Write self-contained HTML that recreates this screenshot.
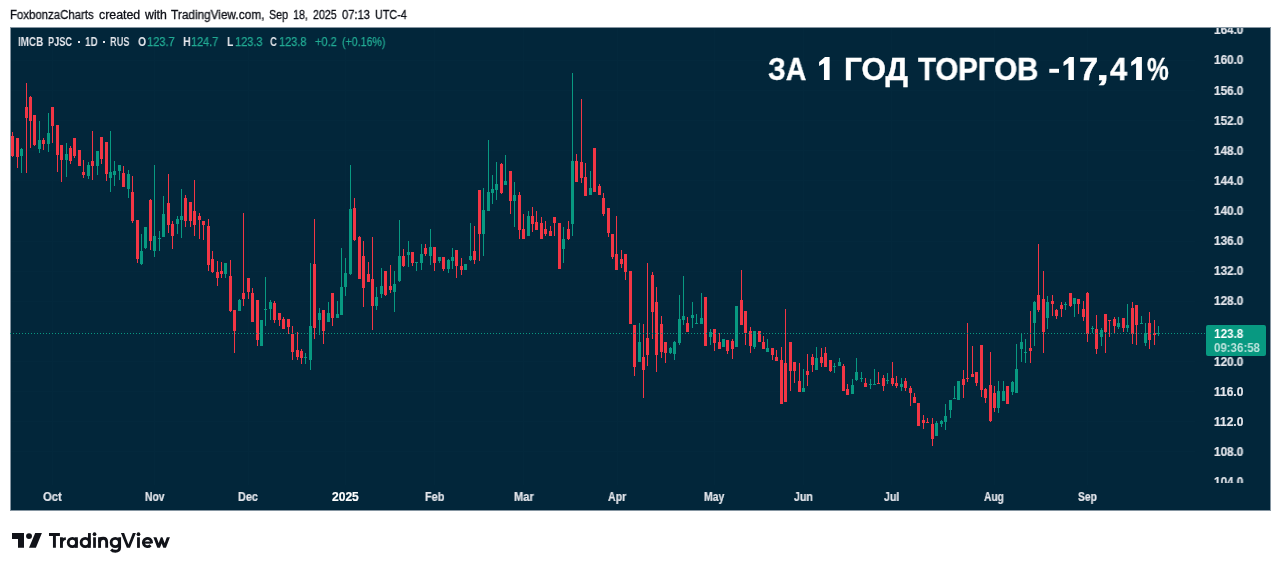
<!DOCTYPE html>
<html><head><meta charset="utf-8"><title>chart</title>
<style>
html,body{margin:0;padding:0;background:#fff;}
body{width:1281px;height:571px;position:relative;overflow:hidden;font-family:"Liberation Sans",sans-serif;}
.t{position:absolute;white-space:nowrap;line-height:1;transform-origin:0 0;display:block;will-change:transform;}
#chart{position:absolute;left:10px;top:27px;width:1259px;height:482px;background:#02263a;border:1px solid #8595a1;}
#pa{position:absolute;left:0;top:28px;width:1281px;height:455px;overflow:hidden;}
#pa .t{margin-top:-28px;}
#lbl{position:absolute;left:1206px;top:325px;width:60px;height:31px;background:#089981;border-radius:2px;}
.dot{position:absolute;width:2px;height:2px;background:#e4e6ec;top:41px;}
svg{position:absolute;left:0;top:0;}
</style></head><body>
<div id="chart"></div>
<svg width="1281" height="571" viewBox="0 0 1281 571" shape-rendering="crispEdges">
<rect x="52" y="28" width="1" height="457" fill="#03283c"/><rect x="154" y="28" width="1" height="457" fill="#03283c"/><rect x="248" y="28" width="1" height="457" fill="#03283c"/><rect x="345" y="28" width="1" height="457" fill="#03283c"/><rect x="434" y="28" width="1" height="457" fill="#03283c"/><rect x="523" y="28" width="1" height="457" fill="#03283c"/><rect x="617" y="28" width="1" height="457" fill="#03283c"/><rect x="714" y="28" width="1" height="457" fill="#03283c"/><rect x="803" y="28" width="1" height="457" fill="#03283c"/><rect x="891" y="28" width="1" height="457" fill="#03283c"/><rect x="994" y="28" width="1" height="457" fill="#03283c"/><rect x="1087" y="28" width="1" height="457" fill="#03283c"/><rect x="11" y="60" width="1184" height="1" fill="#03283c"/><rect x="11" y="90" width="1184" height="1" fill="#03283c"/><rect x="11" y="120" width="1184" height="1" fill="#03283c"/><rect x="11" y="150" width="1184" height="1" fill="#03283c"/><rect x="11" y="180" width="1184" height="1" fill="#03283c"/><rect x="11" y="210" width="1184" height="1" fill="#03283c"/><rect x="11" y="241" width="1184" height="1" fill="#03283c"/><rect x="11" y="271" width="1184" height="1" fill="#03283c"/><rect x="11" y="301" width="1184" height="1" fill="#03283c"/><rect x="11" y="331" width="1184" height="1" fill="#03283c"/><rect x="11" y="361" width="1184" height="1" fill="#03283c"/><rect x="11" y="391" width="1184" height="1" fill="#03283c"/><rect x="11" y="421" width="1184" height="1" fill="#03283c"/><rect x="11" y="451" width="1184" height="1" fill="#03283c"/>
<path fill="#089981" d="M21 148h1v25h-1zM20 149h3v7h-3zM39 121h1v32h-1zM38 140h3v9h-3zM48 113h1v39h-1zM47 133h3v11h-3zM66 143h1v34h-1zM65 154h3v6h-3zM88 162h1v17h-1zM87 165h3v11h-3zM97 151h1v24h-1zM96 151h3v15h-3zM110 131h1v61h-1zM109 172h3v6h-3zM114 161h1v25h-1zM113 171h3v4h-3zM119 165h1v15h-1zM118 165h3v6h-3zM128 170h1v28h-1zM127 174h3v15h-3zM141 234h1v31h-1zM140 251h3v13h-3zM145 227h1v22h-1zM144 227h3v21h-3zM154 165h1v92h-1zM153 236h3v15h-3zM159 231h1v20h-1zM158 238h3v1h-3zM163 196h1v41h-1zM162 214h3v23h-3zM177 216h1v18h-1zM176 219h3v5h-3zM181 189h1v49h-1zM180 216h3v4h-3zM225 263h1v15h-1zM224 263h3v11h-3zM239 299h1v12h-1zM238 300h3v11h-3zM261 320h1v26h-1zM260 320h3v26h-3zM265 277h1v49h-1zM264 309h3v1h-3zM270 300h1v20h-1zM269 302h3v7h-3zM305 353h1v11h-1zM304 357h3v1h-3zM310 263h1v107h-1zM309 326h3v34h-3zM319 308h1v27h-1zM318 313h3v7h-3zM328 302h1v20h-1zM327 313h3v9h-3zM337 301h1v17h-1zM336 314h3v4h-3zM341 248h1v67h-1zM340 287h3v28h-3zM345 258h1v38h-1zM344 273h3v14h-3zM350 165h1v110h-1zM349 209h3v65h-3zM376 287h1v23h-1zM375 297h3v9h-3zM381 268h1v30h-1zM380 286h3v8h-3zM394 271h1v41h-1zM393 284h3v8h-3zM399 220h1v62h-1zM398 256h3v25h-3zM408 241h1v26h-1zM407 252h3v3h-3zM416 262h1v9h-1zM415 262h3v1h-3zM421 244h1v26h-1zM420 254h3v9h-3zM430 229h1v36h-1zM429 247h3v9h-3zM439 257h1v6h-1zM438 257h3v4h-3zM448 259h1v14h-1zM447 260h3v9h-3zM452 248h1v21h-1zM451 257h3v4h-3zM465 264h1v6h-1zM464 264h3v6h-3zM470 223h1v38h-1zM469 256h3v4h-3zM483 188h1v68h-1zM482 210h3v24h-3zM488 140h1v71h-1zM487 192h3v19h-3zM492 175h1v29h-1zM491 189h3v4h-3zM496 162h1v38h-1zM495 184h3v6h-3zM505 155h1v30h-1zM504 181h3v4h-3zM514 182h1v45h-1zM513 195h3v6h-3zM528 211h1v25h-1zM527 216h3v20h-3zM563 227h1v36h-1zM562 239h3v10h-3zM572 73h1v163h-1zM571 161h3v63h-3zM590 171h1v24h-1zM589 188h3v7h-3zM639 323h1v39h-1zM638 342h3v20h-3zM670 347h1v7h-1zM669 348h3v5h-3zM674 341h1v19h-1zM673 342h3v12h-3zM679 295h1v50h-1zM678 319h3v24h-3zM683 276h1v49h-1zM682 316h3v4h-3zM692 302h1v26h-1zM691 315h3v3h-3zM696 314h1v10h-1zM695 323h3v1h-3zM701 293h1v31h-1zM700 318h3v6h-3zM710 329h1v16h-1zM709 332h3v5h-3zM723 339h1v8h-1zM722 339h3v8h-3zM736 306h1v41h-1zM735 306h3v41h-3zM754 331h1v18h-1zM753 331h3v16h-3zM767 339h1v13h-1zM766 348h3v4h-3zM803 369h1v23h-1zM802 388h3v4h-3zM816 347h1v23h-1zM815 358h3v12h-3zM834 363h1v10h-1zM833 366h3v1h-3zM839 358h1v8h-1zM838 362h3v4h-3zM852 379h1v15h-1zM851 385h3v9h-3zM856 358h1v23h-1zM855 372h3v8h-3zM861 372h1v10h-1zM860 378h3v1h-3zM870 379h1v10h-1zM869 384h3v1h-3zM874 369h1v16h-1zM873 384h3v1h-3zM887 373h1v11h-1zM886 380h3v1h-3zM901 378h1v13h-1zM900 384h3v3h-3zM936 421h1v15h-1zM935 423h3v13h-3zM941 420h1v7h-1zM940 421h3v3h-3zM945 404h1v26h-1zM944 416h3v6h-3zM950 400h1v18h-1zM949 400h3v10h-3zM954 386h1v13h-1zM953 398h3v1h-3zM958 381h1v19h-1zM957 381h3v19h-3zM998 381h1v32h-1zM997 391h3v17h-3zM1003 381h1v20h-1zM1002 391h3v10h-3zM1012 381h1v14h-1zM1011 382h3v10h-3zM1016 344h1v49h-1zM1015 369h3v24h-3zM1021 333h1v29h-1zM1020 342h3v7h-3zM1025 339h1v24h-1zM1024 352h3v1h-3zM1034 301h1v45h-1zM1033 302h3v21h-3zM1047 296h1v33h-1zM1046 302h3v16h-3zM1065 302h1v8h-1zM1064 304h3v1h-3zM1074 298h1v19h-1zM1073 298h3v6h-3zM1092 326h1v7h-1zM1091 328h3v1h-3zM1101 328h1v18h-1zM1100 330h3v7h-3zM1118 317h1v12h-1zM1117 323h3v4h-3zM1127 304h1v28h-1zM1126 325h3v3h-3zM1141 316h1v8h-1zM1140 323h3v1h-3zM1145 323h1v23h-1zM1144 333h3v10h-3zM1158 326h1v10h-1zM1157 333h3v1h-3z"/>
<path fill="#f23645" d="M12 132h1v25h-1zM11 136h3v20h-3zM17 138h1v30h-1zM16 138h3v19h-3zM26 83h1v90h-1zM25 107h3v11h-3zM30 96h1v52h-1zM29 97h3v24h-3zM34 115h1v31h-1zM33 115h3v30h-3zM43 138h1v12h-1zM42 140h3v4h-3zM52 107h1v36h-1zM51 107h3v19h-3zM57 125h1v47h-1zM56 125h3v30h-3zM61 145h1v37h-1zM60 145h3v15h-3zM70 146h1v18h-1zM69 148h3v13h-3zM74 138h1v20h-1zM73 138h3v18h-3zM79 150h1v16h-1zM78 150h3v16h-3zM83 160h1v18h-1zM82 172h3v3h-3zM92 131h1v49h-1zM91 161h3v5h-3zM101 137h1v27h-1zM100 137h3v22h-3zM106 142h1v39h-1zM105 142h3v32h-3zM123 166h1v21h-1zM122 173h3v14h-3zM132 176h1v47h-1zM131 192h3v29h-3zM137 220h1v43h-1zM136 220h3v39h-3zM150 199h1v51h-1zM149 200h3v41h-3zM168 174h1v59h-1zM167 203h3v22h-3zM172 221h1v28h-1zM171 224h3v12h-3zM185 195h1v32h-1zM184 198h3v23h-3zM190 202h1v25h-1zM189 202h3v19h-3zM194 180h1v56h-1zM193 211h3v14h-3zM199 213h1v26h-1zM198 216h3v4h-3zM203 221h1v19h-1zM202 221h3v4h-3zM208 219h1v52h-1zM207 226h3v39h-3zM212 251h1v22h-1zM211 259h3v13h-3zM217 261h1v25h-1zM216 272h3v6h-3zM221 262h1v16h-1zM220 271h3v3h-3zM230 260h1v52h-1zM229 276h3v35h-3zM234 310h1v43h-1zM233 310h3v21h-3zM243 213h1v93h-1zM242 293h3v6h-3zM248 278h1v21h-1zM247 278h3v14h-3zM252 288h1v34h-1zM251 293h3v29h-3zM257 300h1v46h-1zM256 300h3v40h-3zM274 301h1v22h-1zM273 303h3v17h-3zM279 313h1v13h-1zM278 313h3v7h-3zM283 317h1v12h-1zM282 319h3v10h-3zM288 319h1v15h-1zM287 319h3v8h-3zM292 326h1v34h-1zM291 334h3v18h-3zM297 332h1v28h-1zM296 350h3v7h-3zM301 349h1v15h-1zM300 351h3v7h-3zM314 219h1v120h-1zM313 264h3v64h-3zM323 310h1v34h-1zM322 310h3v21h-3zM332 293h1v33h-1zM331 293h3v25h-3zM354 198h1v43h-1zM353 208h3v32h-3zM359 236h1v43h-1zM358 237h3v42h-3zM363 241h1v66h-1zM362 256h3v32h-3zM368 262h1v20h-1zM367 274h3v8h-3zM372 237h1v93h-1zM371 279h3v27h-3zM385 271h1v25h-1zM384 271h3v24h-3zM390 265h1v28h-1zM389 286h3v4h-3zM403 249h1v18h-1zM402 256h3v10h-3zM412 252h1v14h-1zM411 252h3v11h-3zM425 244h1v12h-1zM424 248h3v6h-3zM434 247h1v24h-1zM433 247h3v16h-3zM443 257h1v14h-1zM442 257h3v12h-3zM456 250h1v28h-1zM455 250h3v16h-3zM461 258h1v17h-1zM460 266h3v4h-3zM474 226h1v38h-1zM473 251h3v9h-3zM479 190h1v71h-1zM478 190h3v44h-3zM501 163h1v31h-1zM500 164h3v29h-3zM510 171h1v43h-1zM509 171h3v30h-3zM519 192h1v47h-1zM518 195h3v35h-3zM523 214h1v25h-1zM522 229h3v10h-3zM532 207h1v25h-1zM531 216h3v8h-3zM536 211h1v19h-1zM535 222h3v8h-3zM541 217h1v22h-1zM540 223h3v16h-3zM545 221h1v15h-1zM544 229h3v5h-3zM550 226h1v10h-1zM549 231h3v5h-3zM554 217h1v19h-1zM553 217h3v6h-3zM559 223h1v46h-1zM558 223h3v46h-3zM568 221h1v19h-1zM567 229h3v10h-3zM576 154h1v28h-1zM575 161h3v21h-3zM581 99h1v84h-1zM580 162h3v16h-3zM585 163h1v33h-1zM584 177h3v19h-3zM594 148h1v44h-1zM593 148h3v44h-3zM599 184h1v11h-1zM598 186h3v9h-3zM603 193h1v23h-1zM602 198h3v16h-3zM608 208h1v29h-1zM607 208h3v25h-3zM612 234h1v25h-1zM611 234h3v23h-3zM616 216h1v54h-1zM615 254h3v16h-3zM621 250h1v18h-1zM620 259h3v5h-3zM625 254h1v26h-1zM624 254h3v18h-3zM630 271h1v53h-1zM629 271h3v53h-3zM634 325h1v51h-1zM633 325h3v42h-3zM643 324h1v74h-1zM642 357h3v13h-3zM647 263h1v103h-1zM646 338h3v17h-3zM652 272h1v67h-1zM651 275h3v37h-3zM656 287h1v85h-1zM655 302h3v53h-3zM661 316h1v42h-1zM660 324h3v28h-3zM665 342h1v21h-1zM664 342h3v11h-3zM687 317h1v15h-1zM686 323h3v9h-3zM705 297h1v49h-1zM704 297h3v49h-3zM714 329h1v22h-1zM713 329h3v14h-3zM719 333h1v16h-1zM718 342h3v7h-3zM727 340h1v14h-1zM726 340h3v11h-3zM732 339h1v20h-1zM731 341h3v8h-3zM741 270h1v55h-1zM740 300h3v25h-3zM745 311h1v34h-1zM744 311h3v22h-3zM750 327h1v26h-1zM749 331h3v15h-3zM759 331h1v11h-1zM758 331h3v11h-3zM763 336h1v13h-1zM762 342h3v7h-3zM772 348h1v12h-1zM771 348h3v7h-3zM776 350h1v11h-1zM775 357h3v4h-3zM781 347h1v57h-1zM780 360h3v44h-3zM785 309h1v93h-1zM784 363h3v39h-3zM790 342h1v49h-1zM789 342h3v29h-3zM794 362h1v21h-1zM793 362h3v9h-3zM799 363h1v29h-1zM798 381h3v11h-3zM807 354h1v32h-1zM806 371h3v4h-3zM812 354h1v18h-1zM811 357h3v8h-3zM821 348h1v19h-1zM820 357h3v6h-3zM825 347h1v20h-1zM824 353h3v14h-3zM830 360h1v12h-1zM829 360h3v11h-3zM843 364h1v27h-1zM842 366h3v25h-3zM847 384h1v11h-1zM846 389h3v6h-3zM865 378h1v9h-1zM864 383h3v4h-3zM878 372h1v12h-1zM877 383h3v1h-3zM883 375h1v16h-1zM882 378h3v8h-3zM892 362h1v24h-1zM891 378h3v6h-3zM896 376h1v12h-1zM895 383h3v3h-3zM905 378h1v13h-1zM904 381h3v7h-3zM910 386h1v20h-1zM909 388h3v5h-3zM914 393h1v10h-1zM913 397h3v6h-3zM918 403h1v23h-1zM917 403h3v23h-3zM923 415h1v14h-1zM922 420h3v3h-3zM927 418h1v5h-1zM926 422h3v1h-3zM932 418h1v28h-1zM931 424h3v15h-3zM963 370h1v28h-1zM962 379h3v6h-3zM967 323h1v59h-1zM966 378h3v1h-3zM972 346h1v31h-1zM971 374h3v3h-3zM976 372h1v14h-1zM975 372h3v11h-3zM981 345h1v52h-1zM980 345h3v45h-3zM985 388h1v15h-1zM984 389h3v9h-3zM990 352h1v70h-1zM989 385h3v36h-3zM994 386h1v26h-1zM993 393h3v15h-3zM1007 386h1v18h-1zM1006 386h3v18h-3zM1030 311h1v52h-1zM1029 348h3v3h-3zM1038 244h1v68h-1zM1037 295h3v15h-3zM1043 271h1v82h-1zM1042 299h3v33h-3zM1052 295h1v21h-1zM1051 301h3v3h-3zM1056 309h1v10h-1zM1055 310h3v6h-3zM1061 302h1v15h-1zM1060 305h3v4h-3zM1070 293h1v14h-1zM1069 293h3v13h-3zM1078 299h1v15h-1zM1077 299h3v5h-3zM1083 301h1v20h-1zM1082 309h3v8h-3zM1087 292h1v50h-1zM1086 293h3v41h-3zM1096 315h1v39h-1zM1095 329h3v20h-3zM1105 314h1v39h-1zM1104 314h3v18h-3zM1109 320h1v17h-1zM1108 320h3v1h-3zM1114 317h1v16h-1zM1113 319h3v7h-3zM1123 318h1v14h-1zM1122 318h3v10h-3zM1132 302h1v42h-1zM1131 308h3v26h-3zM1136 305h1v40h-1zM1135 305h3v20h-3zM1149 312h1v37h-1zM1148 323h3v17h-3zM1154 320h1v25h-1zM1153 333h3v2h-3z"/>
<path fill="#089981" d="M10 333h1v1h-1zM13 333h1v1h-1zM16 333h1v1h-1zM19 333h1v1h-1zM22 333h1v1h-1zM25 333h1v1h-1zM28 333h1v1h-1zM31 333h1v1h-1zM34 333h1v1h-1zM37 333h1v1h-1zM40 333h1v1h-1zM43 333h1v1h-1zM46 333h1v1h-1zM49 333h1v1h-1zM52 333h1v1h-1zM55 333h1v1h-1zM58 333h1v1h-1zM61 333h1v1h-1zM64 333h1v1h-1zM67 333h1v1h-1zM70 333h1v1h-1zM73 333h1v1h-1zM76 333h1v1h-1zM79 333h1v1h-1zM82 333h1v1h-1zM85 333h1v1h-1zM88 333h1v1h-1zM91 333h1v1h-1zM94 333h1v1h-1zM97 333h1v1h-1zM100 333h1v1h-1zM103 333h1v1h-1zM106 333h1v1h-1zM109 333h1v1h-1zM112 333h1v1h-1zM115 333h1v1h-1zM118 333h1v1h-1zM121 333h1v1h-1zM124 333h1v1h-1zM127 333h1v1h-1zM130 333h1v1h-1zM133 333h1v1h-1zM136 333h1v1h-1zM139 333h1v1h-1zM142 333h1v1h-1zM145 333h1v1h-1zM148 333h1v1h-1zM151 333h1v1h-1zM154 333h1v1h-1zM157 333h1v1h-1zM160 333h1v1h-1zM163 333h1v1h-1zM166 333h1v1h-1zM169 333h1v1h-1zM172 333h1v1h-1zM175 333h1v1h-1zM178 333h1v1h-1zM181 333h1v1h-1zM184 333h1v1h-1zM187 333h1v1h-1zM190 333h1v1h-1zM193 333h1v1h-1zM196 333h1v1h-1zM199 333h1v1h-1zM202 333h1v1h-1zM205 333h1v1h-1zM208 333h1v1h-1zM211 333h1v1h-1zM214 333h1v1h-1zM217 333h1v1h-1zM220 333h1v1h-1zM223 333h1v1h-1zM226 333h1v1h-1zM229 333h1v1h-1zM232 333h1v1h-1zM235 333h1v1h-1zM238 333h1v1h-1zM241 333h1v1h-1zM244 333h1v1h-1zM247 333h1v1h-1zM250 333h1v1h-1zM253 333h1v1h-1zM256 333h1v1h-1zM259 333h1v1h-1zM262 333h1v1h-1zM265 333h1v1h-1zM268 333h1v1h-1zM271 333h1v1h-1zM274 333h1v1h-1zM277 333h1v1h-1zM280 333h1v1h-1zM283 333h1v1h-1zM286 333h1v1h-1zM289 333h1v1h-1zM292 333h1v1h-1zM295 333h1v1h-1zM298 333h1v1h-1zM301 333h1v1h-1zM304 333h1v1h-1zM307 333h1v1h-1zM310 333h1v1h-1zM313 333h1v1h-1zM316 333h1v1h-1zM319 333h1v1h-1zM322 333h1v1h-1zM325 333h1v1h-1zM328 333h1v1h-1zM331 333h1v1h-1zM334 333h1v1h-1zM337 333h1v1h-1zM340 333h1v1h-1zM343 333h1v1h-1zM346 333h1v1h-1zM349 333h1v1h-1zM352 333h1v1h-1zM355 333h1v1h-1zM358 333h1v1h-1zM361 333h1v1h-1zM364 333h1v1h-1zM367 333h1v1h-1zM370 333h1v1h-1zM373 333h1v1h-1zM376 333h1v1h-1zM379 333h1v1h-1zM382 333h1v1h-1zM385 333h1v1h-1zM388 333h1v1h-1zM391 333h1v1h-1zM394 333h1v1h-1zM397 333h1v1h-1zM400 333h1v1h-1zM403 333h1v1h-1zM406 333h1v1h-1zM409 333h1v1h-1zM412 333h1v1h-1zM415 333h1v1h-1zM418 333h1v1h-1zM421 333h1v1h-1zM424 333h1v1h-1zM427 333h1v1h-1zM430 333h1v1h-1zM433 333h1v1h-1zM436 333h1v1h-1zM439 333h1v1h-1zM442 333h1v1h-1zM445 333h1v1h-1zM448 333h1v1h-1zM451 333h1v1h-1zM454 333h1v1h-1zM457 333h1v1h-1zM460 333h1v1h-1zM463 333h1v1h-1zM466 333h1v1h-1zM469 333h1v1h-1zM472 333h1v1h-1zM475 333h1v1h-1zM478 333h1v1h-1zM481 333h1v1h-1zM484 333h1v1h-1zM487 333h1v1h-1zM490 333h1v1h-1zM493 333h1v1h-1zM496 333h1v1h-1zM499 333h1v1h-1zM502 333h1v1h-1zM505 333h1v1h-1zM508 333h1v1h-1zM511 333h1v1h-1zM514 333h1v1h-1zM517 333h1v1h-1zM520 333h1v1h-1zM523 333h1v1h-1zM526 333h1v1h-1zM529 333h1v1h-1zM532 333h1v1h-1zM535 333h1v1h-1zM538 333h1v1h-1zM541 333h1v1h-1zM544 333h1v1h-1zM547 333h1v1h-1zM550 333h1v1h-1zM553 333h1v1h-1zM556 333h1v1h-1zM559 333h1v1h-1zM562 333h1v1h-1zM565 333h1v1h-1zM568 333h1v1h-1zM571 333h1v1h-1zM574 333h1v1h-1zM577 333h1v1h-1zM580 333h1v1h-1zM583 333h1v1h-1zM586 333h1v1h-1zM589 333h1v1h-1zM592 333h1v1h-1zM595 333h1v1h-1zM598 333h1v1h-1zM601 333h1v1h-1zM604 333h1v1h-1zM607 333h1v1h-1zM610 333h1v1h-1zM613 333h1v1h-1zM616 333h1v1h-1zM619 333h1v1h-1zM622 333h1v1h-1zM625 333h1v1h-1zM628 333h1v1h-1zM631 333h1v1h-1zM634 333h1v1h-1zM637 333h1v1h-1zM640 333h1v1h-1zM643 333h1v1h-1zM646 333h1v1h-1zM649 333h1v1h-1zM652 333h1v1h-1zM655 333h1v1h-1zM658 333h1v1h-1zM661 333h1v1h-1zM664 333h1v1h-1zM667 333h1v1h-1zM670 333h1v1h-1zM673 333h1v1h-1zM676 333h1v1h-1zM679 333h1v1h-1zM682 333h1v1h-1zM685 333h1v1h-1zM688 333h1v1h-1zM691 333h1v1h-1zM694 333h1v1h-1zM697 333h1v1h-1zM700 333h1v1h-1zM703 333h1v1h-1zM706 333h1v1h-1zM709 333h1v1h-1zM712 333h1v1h-1zM715 333h1v1h-1zM718 333h1v1h-1zM721 333h1v1h-1zM724 333h1v1h-1zM727 333h1v1h-1zM730 333h1v1h-1zM733 333h1v1h-1zM736 333h1v1h-1zM739 333h1v1h-1zM742 333h1v1h-1zM745 333h1v1h-1zM748 333h1v1h-1zM751 333h1v1h-1zM754 333h1v1h-1zM757 333h1v1h-1zM760 333h1v1h-1zM763 333h1v1h-1zM766 333h1v1h-1zM769 333h1v1h-1zM772 333h1v1h-1zM775 333h1v1h-1zM778 333h1v1h-1zM781 333h1v1h-1zM784 333h1v1h-1zM787 333h1v1h-1zM790 333h1v1h-1zM793 333h1v1h-1zM796 333h1v1h-1zM799 333h1v1h-1zM802 333h1v1h-1zM805 333h1v1h-1zM808 333h1v1h-1zM811 333h1v1h-1zM814 333h1v1h-1zM817 333h1v1h-1zM820 333h1v1h-1zM823 333h1v1h-1zM826 333h1v1h-1zM829 333h1v1h-1zM832 333h1v1h-1zM835 333h1v1h-1zM838 333h1v1h-1zM841 333h1v1h-1zM844 333h1v1h-1zM847 333h1v1h-1zM850 333h1v1h-1zM853 333h1v1h-1zM856 333h1v1h-1zM859 333h1v1h-1zM862 333h1v1h-1zM865 333h1v1h-1zM868 333h1v1h-1zM871 333h1v1h-1zM874 333h1v1h-1zM877 333h1v1h-1zM880 333h1v1h-1zM883 333h1v1h-1zM886 333h1v1h-1zM889 333h1v1h-1zM892 333h1v1h-1zM895 333h1v1h-1zM898 333h1v1h-1zM901 333h1v1h-1zM904 333h1v1h-1zM907 333h1v1h-1zM910 333h1v1h-1zM913 333h1v1h-1zM916 333h1v1h-1zM919 333h1v1h-1zM922 333h1v1h-1zM925 333h1v1h-1zM928 333h1v1h-1zM931 333h1v1h-1zM934 333h1v1h-1zM937 333h1v1h-1zM940 333h1v1h-1zM943 333h1v1h-1zM946 333h1v1h-1zM949 333h1v1h-1zM952 333h1v1h-1zM955 333h1v1h-1zM958 333h1v1h-1zM961 333h1v1h-1zM964 333h1v1h-1zM967 333h1v1h-1zM970 333h1v1h-1zM973 333h1v1h-1zM976 333h1v1h-1zM979 333h1v1h-1zM982 333h1v1h-1zM985 333h1v1h-1zM988 333h1v1h-1zM991 333h1v1h-1zM994 333h1v1h-1zM997 333h1v1h-1zM1000 333h1v1h-1zM1003 333h1v1h-1zM1006 333h1v1h-1zM1009 333h1v1h-1zM1012 333h1v1h-1zM1015 333h1v1h-1zM1018 333h1v1h-1zM1021 333h1v1h-1zM1024 333h1v1h-1zM1027 333h1v1h-1zM1030 333h1v1h-1zM1033 333h1v1h-1zM1036 333h1v1h-1zM1039 333h1v1h-1zM1042 333h1v1h-1zM1045 333h1v1h-1zM1048 333h1v1h-1zM1051 333h1v1h-1zM1054 333h1v1h-1zM1057 333h1v1h-1zM1060 333h1v1h-1zM1063 333h1v1h-1zM1066 333h1v1h-1zM1069 333h1v1h-1zM1072 333h1v1h-1zM1075 333h1v1h-1zM1078 333h1v1h-1zM1081 333h1v1h-1zM1084 333h1v1h-1zM1087 333h1v1h-1zM1090 333h1v1h-1zM1093 333h1v1h-1zM1096 333h1v1h-1zM1099 333h1v1h-1zM1102 333h1v1h-1zM1105 333h1v1h-1zM1108 333h1v1h-1zM1111 333h1v1h-1zM1114 333h1v1h-1zM1117 333h1v1h-1zM1120 333h1v1h-1zM1123 333h1v1h-1zM1126 333h1v1h-1zM1129 333h1v1h-1zM1132 333h1v1h-1zM1135 333h1v1h-1zM1138 333h1v1h-1zM1141 333h1v1h-1zM1144 333h1v1h-1zM1147 333h1v1h-1zM1150 333h1v1h-1zM1153 333h1v1h-1zM1156 333h1v1h-1zM1159 333h1v1h-1zM1162 333h1v1h-1zM1165 333h1v1h-1zM1168 333h1v1h-1zM1171 333h1v1h-1zM1174 333h1v1h-1zM1177 333h1v1h-1zM1180 333h1v1h-1zM1183 333h1v1h-1zM1186 333h1v1h-1zM1189 333h1v1h-1zM1192 333h1v1h-1zM1195 333h1v1h-1zM1198 333h1v1h-1zM1201 333h1v1h-1zM1204 333h1v1h-1z"/>
</svg>
<div id="pa">
<span class="t" style="left:1214.40px;top:24.34px;font-size:12px;font-weight:700;color:#e4e6ec;-webkit-text-stroke:0.2px #e4e6ec;transform:scaleX(0.9784)">164.0</span>
<span class="t" style="left:1214.40px;top:54.45px;font-size:12px;font-weight:700;color:#e4e6ec;-webkit-text-stroke:0.2px #e4e6ec;transform:scaleX(0.9784)">160.0</span>
<span class="t" style="left:1214.40px;top:84.56px;font-size:12px;font-weight:700;color:#e4e6ec;-webkit-text-stroke:0.2px #e4e6ec;transform:scaleX(0.9784)">156.0</span>
<span class="t" style="left:1214.40px;top:114.68px;font-size:12px;font-weight:700;color:#e4e6ec;-webkit-text-stroke:0.2px #e4e6ec;transform:scaleX(0.9784)">152.0</span>
<span class="t" style="left:1214.40px;top:144.79px;font-size:12px;font-weight:700;color:#e4e6ec;-webkit-text-stroke:0.2px #e4e6ec;transform:scaleX(0.9784)">148.0</span>
<span class="t" style="left:1214.40px;top:174.91px;font-size:12px;font-weight:700;color:#e4e6ec;-webkit-text-stroke:0.2px #e4e6ec;transform:scaleX(0.9784)">144.0</span>
<span class="t" style="left:1214.40px;top:205.02px;font-size:12px;font-weight:700;color:#e4e6ec;-webkit-text-stroke:0.2px #e4e6ec;transform:scaleX(0.9784)">140.0</span>
<span class="t" style="left:1214.40px;top:235.14px;font-size:12px;font-weight:700;color:#e4e6ec;-webkit-text-stroke:0.2px #e4e6ec;transform:scaleX(0.9784)">136.0</span>
<span class="t" style="left:1214.40px;top:265.25px;font-size:12px;font-weight:700;color:#e4e6ec;-webkit-text-stroke:0.2px #e4e6ec;transform:scaleX(0.9784)">132.0</span>
<span class="t" style="left:1214.40px;top:295.37px;font-size:12px;font-weight:700;color:#e4e6ec;-webkit-text-stroke:0.2px #e4e6ec;transform:scaleX(0.9784)">128.0</span>
<span class="t" style="left:1214.40px;top:325.48px;font-size:12px;font-weight:700;color:#e4e6ec;-webkit-text-stroke:0.2px #e4e6ec;transform:scaleX(0.9784)">124.0</span>
<span class="t" style="left:1214.40px;top:355.60px;font-size:12px;font-weight:700;color:#e4e6ec;-webkit-text-stroke:0.2px #e4e6ec;transform:scaleX(0.9784)">120.0</span>
<span class="t" style="left:1214.40px;top:385.71px;font-size:12px;font-weight:700;color:#e4e6ec;-webkit-text-stroke:0.2px #e4e6ec;transform:scaleX(1.0002)">116.0</span>
<span class="t" style="left:1214.40px;top:415.83px;font-size:12px;font-weight:700;color:#e4e6ec;-webkit-text-stroke:0.2px #e4e6ec;transform:scaleX(1.0002)">112.0</span>
<span class="t" style="left:1214.40px;top:445.94px;font-size:12px;font-weight:700;color:#e4e6ec;-webkit-text-stroke:0.2px #e4e6ec;transform:scaleX(0.9784)">108.0</span>
<span class="t" style="left:1214.40px;top:476.06px;font-size:12px;font-weight:700;color:#e4e6ec;-webkit-text-stroke:0.2px #e4e6ec;transform:scaleX(0.9784)">104.0</span>
</div>
<div id="lbl"></div>
<div class="dot" style="left:78px"></div><div class="dot" style="left:103px"></div>
<span class="t" style="left:10.30px;top:8.54px;font-size:12px;font-weight:400;color:#0d0f16;-webkit-text-stroke:0.3px #0d0f16;transform:scaleX(0.9507)">FoxbonzaCharts</span>
<span class="t" style="left:98.50px;top:8.54px;font-size:12px;font-weight:400;color:#0d0f16;-webkit-text-stroke:0.3px #0d0f16;transform:scaleX(1.0292)">created</span>
<span class="t" style="left:144.82px;top:8.54px;font-size:12px;font-weight:400;color:#0d0f16;-webkit-text-stroke:0.3px #0d0f16;transform:scaleX(1.0246)">with</span>
<span class="t" style="left:171.00px;top:8.54px;font-size:12px;font-weight:400;color:#0d0f16;-webkit-text-stroke:0.3px #0d0f16;transform:scaleX(0.9854)">TradingView.com,</span>
<span class="t" style="left:269.40px;top:8.54px;font-size:12px;font-weight:400;color:#0d0f16;-webkit-text-stroke:0.3px #0d0f16;transform:scaleX(0.8903)">Sep</span>
<span class="t" style="left:292.80px;top:8.54px;font-size:12px;font-weight:400;color:#0d0f16;-webkit-text-stroke:0.3px #0d0f16;transform:scaleX(0.8931)">18,</span>
<span class="t" style="left:313.00px;top:8.54px;font-size:12px;font-weight:400;color:#0d0f16;-webkit-text-stroke:0.3px #0d0f16;transform:scaleX(0.8882)">2025</span>
<span class="t" style="left:341.70px;top:8.54px;font-size:12px;font-weight:400;color:#0d0f16;-webkit-text-stroke:0.3px #0d0f16;transform:scaleX(0.9323)">07:13</span>
<span class="t" style="left:375.00px;top:8.54px;font-size:12px;font-weight:400;color:#0d0f16;-webkit-text-stroke:0.3px #0d0f16;transform:scaleX(0.8974)">UTC-4</span>
<span class="t" style="left:18.10px;top:36.24px;font-size:12px;font-weight:700;color:#e4e6ec;transform:scaleX(0.8227)">IMCB</span>
<span class="t" style="left:47.80px;top:36.24px;font-size:12px;font-weight:700;color:#e4e6ec;transform:scaleX(0.7638)">PJSC</span>
<span class="t" style="left:85.30px;top:36.24px;font-size:12px;font-weight:700;color:#e4e6ec;transform:scaleX(0.8230)">1D</span>
<span class="t" style="left:110.30px;top:36.24px;font-size:12px;font-weight:700;color:#e4e6ec;transform:scaleX(0.7698)">RUS</span>
<span class="t" style="left:137.60px;top:36.24px;font-size:12px;font-weight:700;color:#e4e6ec;transform:scaleX(0.8667)">O</span>
<span class="t" style="left:146.60px;top:36.24px;font-size:12px;font-weight:400;color:#22ab94;-webkit-text-stroke:0.25px #22ab94;transform:scaleX(0.9257)">123.7</span>
<span class="t" style="left:182.90px;top:36.24px;font-size:12px;font-weight:700;color:#e4e6ec;transform:scaleX(0.9000)">H</span>
<span class="t" style="left:191.20px;top:36.24px;font-size:12px;font-weight:400;color:#22ab94;-webkit-text-stroke:0.25px #22ab94;transform:scaleX(0.9092)">124.7</span>
<span class="t" style="left:227.10px;top:36.24px;font-size:12px;font-weight:700;color:#e4e6ec;transform:scaleX(0.8714)">L</span>
<span class="t" style="left:234.60px;top:36.24px;font-size:12px;font-weight:400;color:#22ab94;-webkit-text-stroke:0.25px #22ab94;transform:scaleX(0.9191)">123.3</span>
<span class="t" style="left:270.00px;top:36.24px;font-size:12px;font-weight:700;color:#e4e6ec;transform:scaleX(0.8000)">C</span>
<span class="t" style="left:278.60px;top:36.24px;font-size:12px;font-weight:400;color:#22ab94;-webkit-text-stroke:0.25px #22ab94;transform:scaleX(0.9158)">123.8</span>
<span class="t" style="left:314.50px;top:36.24px;font-size:12px;font-weight:400;color:#22ab94;-webkit-text-stroke:0.25px #22ab94;transform:scaleX(0.9202)">+0.2</span>
<span class="t" style="left:342.00px;top:36.24px;font-size:12px;font-weight:400;color:#22ab94;-webkit-text-stroke:0.25px #22ab94;transform:scaleX(0.8852)">(+0.16%)</span>
<span class="t" style="left:768.40px;top:54.10px;font-size:31.4px;font-weight:700;color:#ffffff;-webkit-text-stroke:0.4px #ffffff;transform:scaleX(0.9024)">ЗА</span>
<span class="t" style="left:843.89px;top:54.10px;font-size:31.4px;font-weight:700;color:#ffffff;-webkit-text-stroke:0.4px #ffffff;transform:scaleX(1.0035)">ГОД</span>
<span class="t" style="left:917.90px;top:54.10px;font-size:31.4px;font-weight:700;color:#ffffff;-webkit-text-stroke:0.4px #ffffff;transform:scaleX(0.9393)">ТОРГОВ</span>
<span class="t" style="left:1078.60px;top:54.10px;font-size:31.4px;font-weight:700;color:#ffffff;-webkit-text-stroke:0.4px #ffffff;transform:scaleX(1.1000)">7</span>
<span class="t" style="left:1096.26px;top:54.10px;font-size:31.4px;font-weight:700;color:#ffffff;-webkit-text-stroke:0.4px #ffffff;transform:scaleX(1.5200)">,</span>
<span class="t" style="left:1109.80px;top:54.10px;font-size:31.4px;font-weight:700;color:#ffffff;-webkit-text-stroke:0.4px #ffffff;transform:scaleX(0.9778)">4</span>
<span class="t" style="left:1146.50px;top:54.10px;font-size:31.4px;font-weight:700;color:#ffffff;-webkit-text-stroke:0.4px #ffffff;transform:scaleX(0.7786)">%</span>
<span class="t" style="left:42.80px;top:490.54px;font-size:12px;font-weight:700;color:#e4e6ec;-webkit-text-stroke:0.2px #e4e6ec;transform:scaleX(0.9396)">Oct</span>
<span class="t" style="left:144.60px;top:490.54px;font-size:12px;font-weight:700;color:#e4e6ec;-webkit-text-stroke:0.2px #e4e6ec;transform:scaleX(0.8567)">Nov</span>
<span class="t" style="left:237.80px;top:490.54px;font-size:12px;font-weight:700;color:#e4e6ec;-webkit-text-stroke:0.2px #e4e6ec;transform:scaleX(0.9042)">Dec</span>
<span class="t" style="left:424.80px;top:490.54px;font-size:12px;font-weight:700;color:#e4e6ec;-webkit-text-stroke:0.2px #e4e6ec;transform:scaleX(0.9094)">Feb</span>
<span class="t" style="left:513.50px;top:490.54px;font-size:12px;font-weight:700;color:#e4e6ec;-webkit-text-stroke:0.2px #e4e6ec;transform:scaleX(0.9229)">Mar</span>
<span class="t" style="left:607.50px;top:490.54px;font-size:12px;font-weight:700;color:#e4e6ec;-webkit-text-stroke:0.2px #e4e6ec;transform:scaleX(0.8811)">Apr</span>
<span class="t" style="left:703.50px;top:490.54px;font-size:12px;font-weight:700;color:#e4e6ec;-webkit-text-stroke:0.2px #e4e6ec;transform:scaleX(0.8661)">May</span>
<span class="t" style="left:793.50px;top:490.54px;font-size:12px;font-weight:700;color:#e4e6ec;-webkit-text-stroke:0.2px #e4e6ec;transform:scaleX(0.8808)">Jun</span>
<span class="t" style="left:884.00px;top:490.54px;font-size:12px;font-weight:700;color:#e4e6ec;-webkit-text-stroke:0.2px #e4e6ec;transform:scaleX(0.8822)">Jul</span>
<span class="t" style="left:984.00px;top:490.54px;font-size:12px;font-weight:700;color:#e4e6ec;-webkit-text-stroke:0.2px #e4e6ec;transform:scaleX(0.8480)">Aug</span>
<span class="t" style="left:1077.50px;top:490.54px;font-size:12px;font-weight:700;color:#e4e6ec;-webkit-text-stroke:0.2px #e4e6ec;transform:scaleX(0.8534)">Sep</span>
<span class="t" style="left:331.90px;top:490.54px;font-size:12px;font-weight:700;color:#ffffff;-webkit-text-stroke:0.2px #ffffff;transform:scaleX(1.0029)">2025</span>
<span class="t" style="left:1213.90px;top:327.84px;font-size:12px;font-weight:700;color:#ffffff;transform:scaleX(0.9784)">123.8</span>
<span class="t" style="left:1214.00px;top:341.84px;font-size:12px;font-weight:700;color:rgba(255,255,255,0.72);transform:scaleX(0.9574)">09:36:58</span>
<svg width="1281" height="571" viewBox="0 0 1281 571">
<path fill="#111319" d="M12 533.1H24V547.85H18V538.9H12Z"/>
<circle cx="29.03" cy="536.1" r="2.95" fill="#111319"/>
<path fill="#111319" d="M35.2 533.1H41.9L35.9 547.85H29.03Z"/>
<path fill="#111319" d="M48.99 533.05H59.91V535.99H55.89V547.84H52.96V535.99H48.99Z"/>
<rect x="60.01" y="537.27" width="2.89" height="10.57" fill="#111319"/>
<path fill="none" stroke="#111319" stroke-width="2.7" d="M61.5 543.5C61.5 540.3 63 538.62 65.85 538.62"/>
<circle cx="72.38" cy="542.53" r="4.13" fill="none" stroke="#111319" stroke-width="2.86"/>
<rect x="74.95" y="537.27" width="2.89" height="10.57" fill="#111319"/>
<circle cx="85.26" cy="542.53" r="4.13" fill="none" stroke="#111319" stroke-width="2.86"/>
<rect x="87.99" y="533.05" width="2.83" height="14.79" fill="#111319"/>
<rect x="93.14" y="537.27" width="2.75" height="10.57" fill="#111319"/>
<circle cx="94.52" cy="534.2" r="1.85" fill="#111319"/>
<rect x="98.14" y="537.27" width="2.88" height="10.57" fill="#111319"/>
<path fill="none" stroke="#111319" stroke-width="2.85" d="M106.66 547.84V541.9C106.66 539.6 105.3 538.2 103.2 538.2C101.1 538.2 99.58 539.7 99.58 542.2"/>
<circle cx="115.27" cy="542.53" r="4.13" fill="none" stroke="#111319" stroke-width="2.86"/>
<path fill="none" stroke="#111319" stroke-width="2.8" d="M119.65 537.27V547.5C119.65 550.2 117.9 551.25 115.4 551.25C113.5 551.25 112.1 550.7 111.1 549.5"/>
<path fill="#111319" d="M120.94 533.05H124.13L128.42 544.4L132.79 533.05H135.88L129.96 547.84H126.87Z"/>
<rect x="137.07" y="537.27" width="2.83" height="10.57" fill="#111319"/>
<circle cx="138.47" cy="534.2" r="1.85" fill="#111319"/>
<path fill="none" stroke="#111319" stroke-width="2.86" d="M151.60 543.13V542.53A4.13 4.13 0 1 0 150.54 545.29"/>
<rect x="143.34" y="541.5" width="8.26" height="2.2" fill="#111319"/>
<clipPath id="cw"><rect x="150" y="537.27" width="22" height="10.57"/></clipPath>
<path clip-path="url(#cw)" fill="none" stroke="#111319" stroke-width="2.9" stroke-linejoin="miter" stroke-miterlimit="10" d="M154.55 536.2L158.65 547.2L161.64 539.2L164.63 547.2L168.73 536.2"/>
<path fill="#fff" d="M829.62 57H824.97L819.07 62.1V66L823.97 63.3V79.94H829.62Z"/><path fill="#fff" d="M1073.90 57H1069.40L1063.50 62.1V66L1068.40 63.3V79.94H1073.90Z"/><path fill="#fff" d="M1141.90 57H1137.10L1131.20 62.1V66L1136.10 63.3V79.94H1141.90Z"/><rect x="1049.3" y="68.8" width="9.7" height="4" fill="#fff"/>
</svg>
</body></html>
